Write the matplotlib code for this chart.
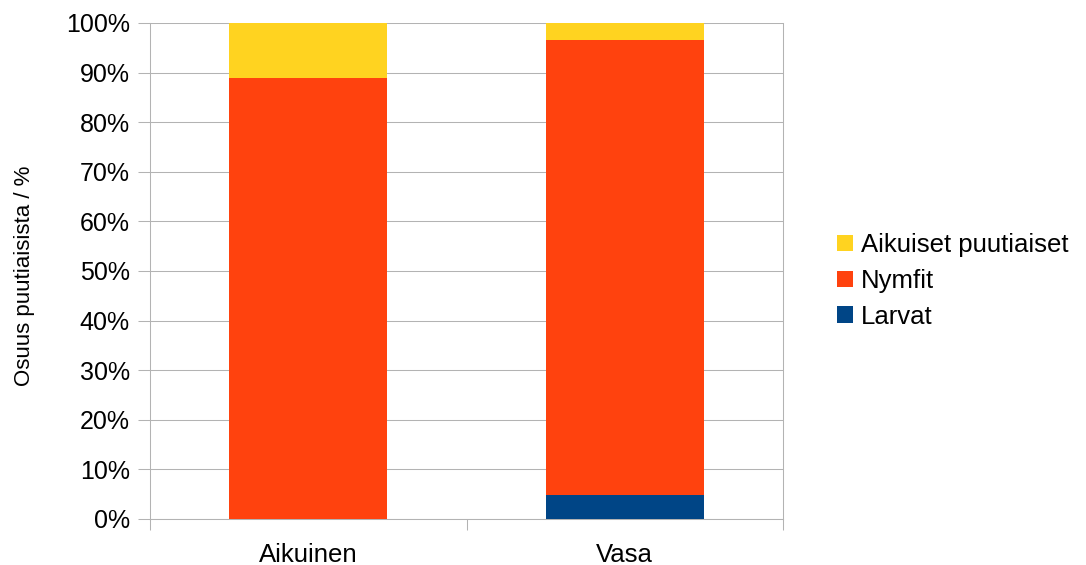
import numpy as np
import matplotlib
matplotlib.use("Agg")
import matplotlib.pyplot as plt
from matplotlib.ticker import FixedLocator, PercentFormatter

plt.rcParams['font.family'] = ['Liberation Sans', 'DejaVu Sans']

# data (percent of ticks per host group)
categories = ["Aikuinen", "Vasa"]
larvat = [0.0, 4.9]
nymfit = [89.0, 91.7]
aikuiset = [11.0, 3.4]

series_names = ["Larvat", "Nymfit", "Aikuiset puutiaiset"]
colors = ["#004586", "#ff420e", "#ffd320"]
grid_col = "#b3b3b3"

fig = plt.figure(figsize=(10.86, 5.65), dpi=100)
ax = fig.add_axes([150 / 1086, 1 - 519 / 565, 633 / 1086, 496 / 565])

x = np.arange(len(categories))
bottom = np.zeros(len(categories))
handles = []
for vals, name, col in zip([larvat, nymfit, aikuiset], series_names, colors):
    b = ax.bar(x, vals, 0.5, bottom=bottom, color=col, label=name, zorder=3)
    handles.append(b)
    bottom += np.array(vals)

ax.set_xlim(-0.5, 1.5)
ax.set_ylim(0, 100)
ax.set_yticks(np.arange(0, 101, 10))
ax.yaxis.set_major_formatter(PercentFormatter(decimals=0))
ax.grid(axis='y', color=grid_col, lw=0.75, zorder=0)

ax.set_xticks(x)
ax.set_xticklabels(categories)
ax.xaxis.set_minor_locator(FixedLocator([-0.5, 0.5, 1.5]))
ax.tick_params(axis='x', which='major', length=0, pad=17, labelsize=18.5)
ax.tick_params(axis='x', which='minor', length=8, width=0.75, color=grid_col)
ax.tick_params(axis='y', length=8.5, width=0.75, color=grid_col, labelsize=18, pad=6)

for s in ax.spines.values():
    s.set_color(grid_col)
    s.set_linewidth(0.75)
ax.spines['top'].set_visible(False)

ax.set_ylabel("Osuus puutiaisista / %", fontsize=16)
ax.yaxis.set_label_coords(-0.182, 0.49)

leg = ax.legend(handles[::-1], series_names[::-1], loc='center left',
                bbox_to_anchor=(1.085, 0.48), frameon=False, fontsize=18.5,
                handlelength=0.62, handleheight=0.62, handletextpad=0.33,
                labelspacing=0.46, borderpad=0, borderaxespad=0)

fig.savefig("out.png", dpi=100)
